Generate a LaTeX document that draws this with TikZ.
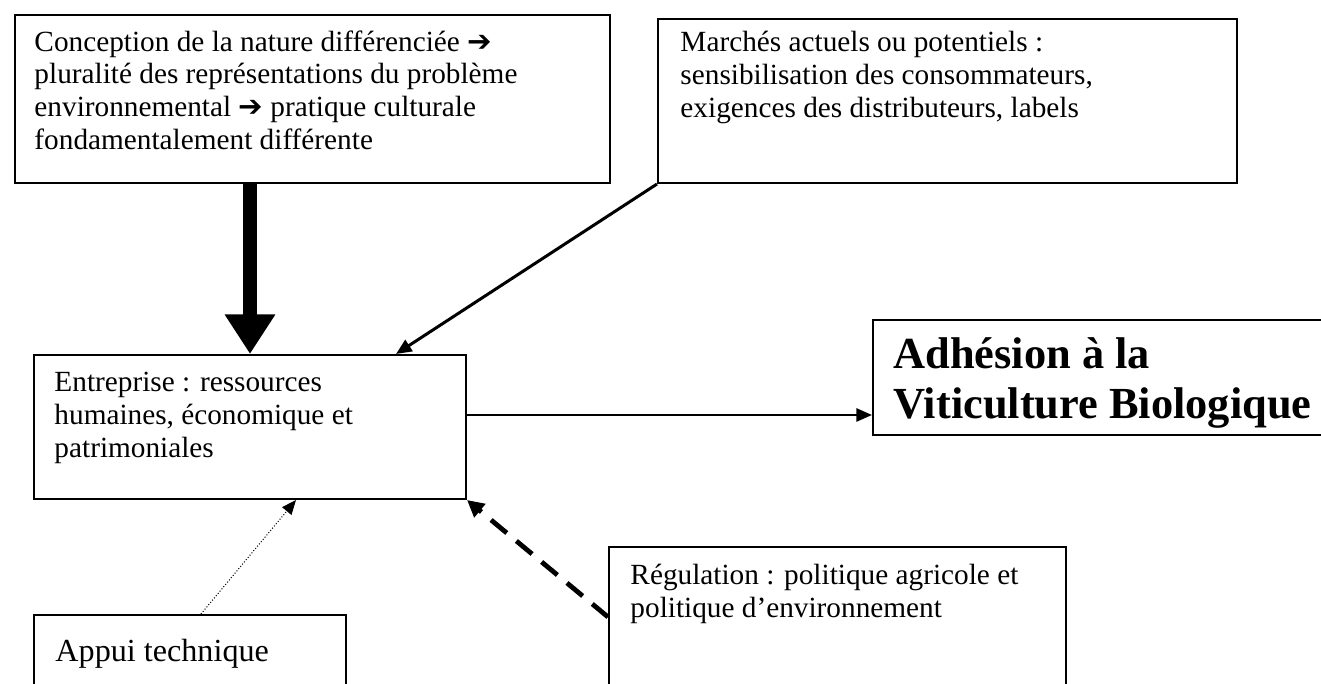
\documentclass[tikz,border=0pt]{standalone}
\usepackage{fontspec}
\setmainfont{Liberation Serif}
\newfontfamily\symf{DejaVu Sans}
\usetikzlibrary{arrows.meta,fit,calc}
\begin{document}
\begin{tikzpicture}[x=0.416667pt,y=-0.416667pt,
  box/.style={draw, line width=0.85pt, inner sep=0pt},
  txt/.style={anchor=north west, inner sep=0pt, align=left, font=\fontsize{12.2}{13.6}\selectfont},
  bigtxt/.style={anchor=north west, inner sep=0pt, align=left, font=\fontsize{18.5}{21}\selectfont\bfseries},
  fatarrow/.style={line width=5.8pt, -{Triangle[width=20pt,length=16.5pt]}},
  medarrow/.style={line width=1.25pt, -{Triangle[width=5.5pt,length=6.5pt]}},
  thinarrow/.style={line width=0.85pt, -{Triangle[width=5.5pt,length=6.5pt]}},
  dotarrow/.style={line width=0.42pt, dash pattern=on 0.42pt off 0.8pt, -{Triangle[width=5pt,length=6pt]}},
  dasharrow/.style={line width=2pt, dash pattern=on 8.5pt off 5.2pt, -{Triangle[width=7pt,length=7pt]}}
]
\clip (0,0) rectangle (1321,684);
\fill[white] (0,0) rectangle (1321,684);

% boxes
\node[box, fit={(15,15) (610,183)}] (A) {};
\node[box, fit={(658,19) (1237,183)}] (B) {};
\node[box, fit={(34,355) (466,499)}] (E) {};
\node[box, fit={(873,320) (1345,435)}] (Adh) {};
\node[box, fit={(34,615) (346,710)}] (Ap) {};
\node[box, fit={(609,547) (1066,710)}] (R) {};

% texts
\node[txt] (At) at (34,30) {Conception de la nature différenciée {\symf ➔}\\
pluralité des représentations du problème\\
environnemental {\symf ➔} pratique culturale\\
fondamentalement différente};
\node[txt] (Bt) at (680,31) {Marchés actuels ou potentiels :\\
sensibilisation des consommateurs,\\
exigences des distributeurs, labels};
\node[txt] (Et) at (54,372) {Entreprise : ressources\\
humaines, économique et\\
patrimoniales};
\node[bigtxt] (Adht) at (893,337) {Adhésion à la\\
Viticulture Biologique};
\node[txt, font=\fontsize{13.4}{15}\selectfont] (Apt) at (55,639) {Appui technique};
\node[txt] (Rt) at (630,564) {Régulation : politique agricole et\\
politique d’environnement};

% connectors
\draw[fatarrow] (A.south -| E.north) -- (E.north);
\draw[medarrow] (B.south west) -- ($(E.north east)+(-71,0)$);
\coordinate (h1) at ($(E.north east)+(0,61)$);
\draw[thinarrow] (h1) -- (h1 -| Adh.west);
\draw[dotarrow] ($(Ap.north west)+(168,0)$) -- ($(E.south west)+(263,0)$);
\draw[dasharrow] ($(R.north west)+(0,71)$) -- (E.south east);
\end{tikzpicture}
\end{document}
